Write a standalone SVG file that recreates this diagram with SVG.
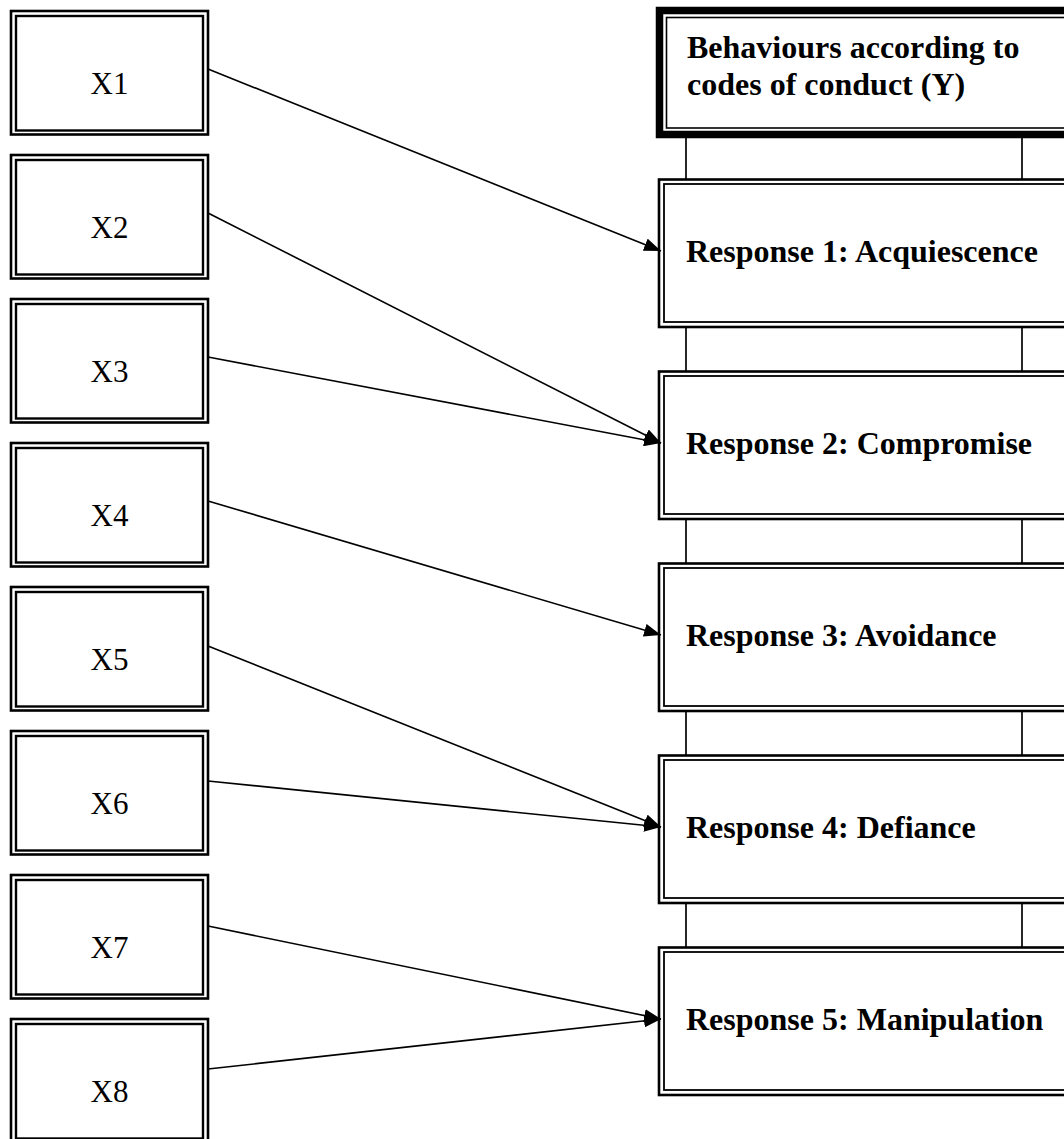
<svg xmlns="http://www.w3.org/2000/svg" width="1064" height="1139" viewBox="0 0 1064 1139">
<style>
.bg{fill:#fff}
.o{fill:none;stroke:#000;stroke-width:2.6}
.i{fill:none;stroke:#000;stroke-width:2.4}
.ro{fill:none;stroke:#000;stroke-width:2.6}
.ri{fill:none;stroke:#000;stroke-width:1.8}
.yo{fill:none;stroke:#000;stroke-width:7.5}
.yi{fill:none;stroke:#000;stroke-width:1.6}
.xl{font-family:"Liberation Serif","Times New Roman",serif;font-size:31px;fill:#000;text-anchor:middle}
.rl{font-family:"Liberation Serif","Times New Roman",serif;font-size:32px;font-weight:bold;fill:#000}
.c{stroke:#000;stroke-width:1.6;fill:none}
.v{stroke:#000;stroke-width:1.7;fill:none}
</style>
<defs>
<marker id="ah" markerUnits="userSpaceOnUse" markerWidth="18" markerHeight="13" refX="17" refY="6.5" orient="auto">
<path d="M0,0 L17,6.5 L0,13 Z" fill="#000"/>
</marker>
</defs>
<rect class="bg" x="0" y="0" width="1064" height="1139"/>

<g id="connectors">
<line class="v" x1="686" y1="138" x2="686" y2="180"/>
<line class="v" x1="1022" y1="138" x2="1022" y2="180"/>
<line class="v" x1="686" y1="326" x2="686" y2="372"/>
<line class="v" x1="1022" y1="326" x2="1022" y2="372"/>
<line class="v" x1="686" y1="518" x2="686" y2="564"/>
<line class="v" x1="1022" y1="518" x2="1022" y2="564"/>
<line class="v" x1="686" y1="710" x2="686" y2="756"/>
<line class="v" x1="1022" y1="710" x2="1022" y2="756"/>
<line class="v" x1="686" y1="902" x2="686" y2="948"/>
<line class="v" x1="1022" y1="902" x2="1022" y2="948"/>
<line class="c" x1="208" y1="69" x2="661" y2="251" marker-end="url(#ah)"/>
<line class="c" x1="208" y1="213" x2="661" y2="443" marker-end="url(#ah)"/>
<line class="c" x1="208" y1="357" x2="661" y2="443" marker-end="url(#ah)"/>
<line class="c" x1="208" y1="501" x2="661" y2="635" marker-end="url(#ah)"/>
<line class="c" x1="208" y1="646" x2="661" y2="827" marker-end="url(#ah)"/>
<line class="c" x1="208" y1="781" x2="661" y2="827" marker-end="url(#ah)"/>
<line class="c" x1="208" y1="926" x2="661" y2="1019" marker-end="url(#ah)"/>
<line class="c" x1="208" y1="1069" x2="661" y2="1019" marker-end="url(#ah)"/>
</g>

<g id="x1"><rect class="o" x="11" y="11" width="197" height="123.5"/><rect class="i" x="16" y="16" width="187" height="114.5"/><text class="xl" x="109.5" y="94">X1</text></g>
<g id="x2"><rect class="o" x="11" y="155" width="197" height="123.5"/><rect class="i" x="16" y="160" width="187" height="114.5"/><text class="xl" x="109.5" y="238">X2</text></g>
<g id="x3"><rect class="o" x="11" y="299" width="197" height="123.5"/><rect class="i" x="16" y="304" width="187" height="114.5"/><text class="xl" x="109.5" y="382">X3</text></g>
<g id="x4"><rect class="o" x="11" y="443" width="197" height="123.5"/><rect class="i" x="16" y="448" width="187" height="114.5"/><text class="xl" x="109.5" y="526">X4</text></g>
<g id="x5"><rect class="o" x="11" y="587" width="197" height="123.5"/><rect class="i" x="16" y="592" width="187" height="114.5"/><text class="xl" x="109.5" y="670">X5</text></g>
<g id="x6"><rect class="o" x="11" y="731" width="197" height="123.5"/><rect class="i" x="16" y="736" width="187" height="114.5"/><text class="xl" x="109.5" y="814">X6</text></g>
<g id="x7"><rect class="o" x="11" y="875" width="197" height="123.5"/><rect class="i" x="16" y="880" width="187" height="114.5"/><text class="xl" x="109.5" y="958">X7</text></g>
<g id="x8"><rect class="o" x="11" y="1019" width="197" height="123.5"/><rect class="i" x="16" y="1024" width="187" height="114.5"/><text class="xl" x="109.5" y="1102">X8</text></g>

<g id="y"><rect class="yo" x="659.5" y="10.5" width="500" height="124"/><rect class="yi" x="666.5" y="17.5" width="500" height="110.5"/><text class="rl" x="687" y="58">Behaviours according to</text><text class="rl" x="687" y="95">codes of conduct (Y)</text></g>

<g id="r1"><rect class="ro" x="659" y="179.5" width="500" height="147.5"/><rect class="ri" x="664" y="184" width="500" height="138"/><text class="rl" x="686" y="262">Response 1: Acquiescence</text></g>
<g id="r2"><rect class="ro" x="659" y="371.5" width="500" height="147.5"/><rect class="ri" x="664" y="376" width="500" height="138"/><text class="rl" x="686" y="454">Response 2: Compromise</text></g>
<g id="r3"><rect class="ro" x="659" y="563.5" width="500" height="147.5"/><rect class="ri" x="664" y="568" width="500" height="138"/><text class="rl" x="686" y="646">Response 3: Avoidance</text></g>
<g id="r4"><rect class="ro" x="659" y="755.5" width="500" height="147.5"/><rect class="ri" x="664" y="760" width="500" height="138"/><text class="rl" x="686" y="838">Response 4: Defiance</text></g>
<g id="r5"><rect class="ro" x="659" y="947.5" width="500" height="147.5"/><rect class="ri" x="664" y="952" width="500" height="138"/><text class="rl" x="686" y="1030">Response 5: Manipulation</text></g>
</svg>
